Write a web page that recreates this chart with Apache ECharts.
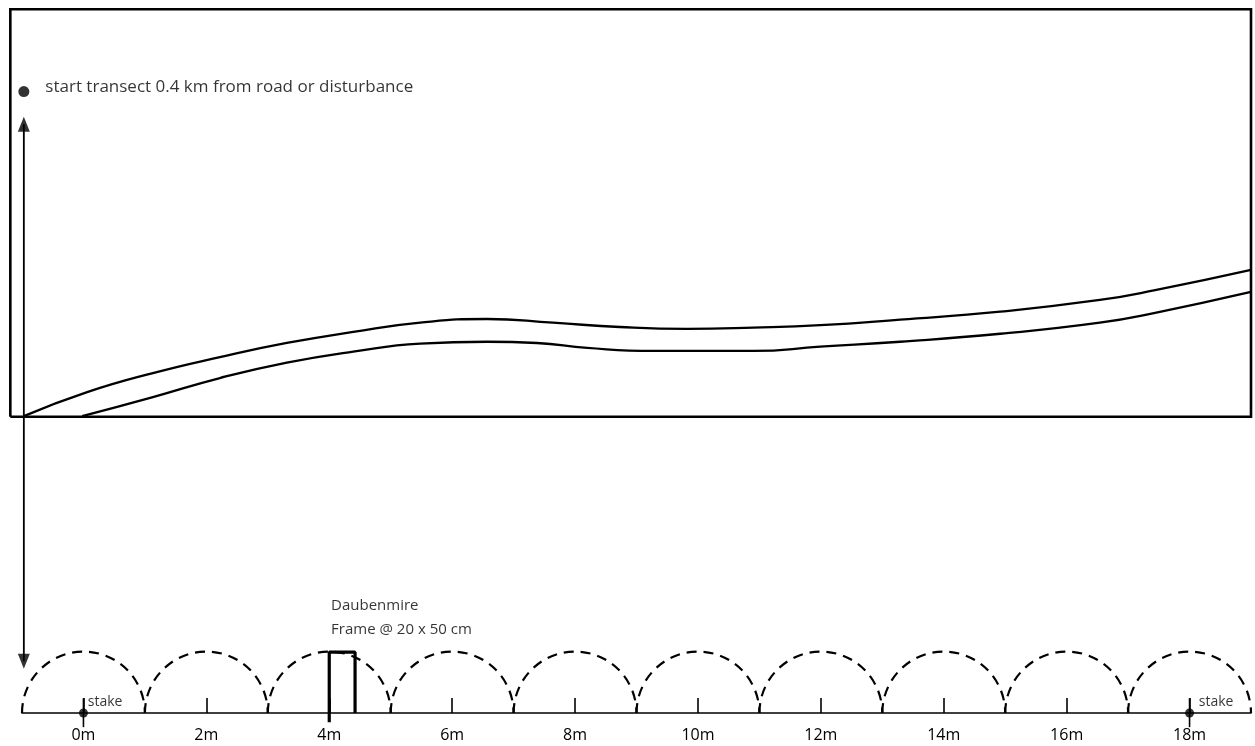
<!DOCTYPE html>
<html>
<head>
<meta charset="utf-8">
<script src="https://cdn.jsdelivr.net/npm/echarts@6/dist/echarts.min.js"></script>
<style>
html,body{margin:0;padding:0;background:#fff;}
#chart{width:1255px;height:746px;}
</style>
</head>
<body>
<div id="chart"></div>
<script>
// ---- data (metres along transect; y in metres-equivalent drawing units) ----
const tickValues = [0, 2, 4, 6, 8, 10, 12, 14, 16, 18];
const tickLabels = ['0m', '2m', '4m', '6m', '8m', '10m', '12m', '14m', '16m', '18m'];
const plotCenters = [0, 2, 4, 6, 8, 10, 12, 14, 16, 18];
const plotRadius = 1;
const stakePositions = [0, 18];
const roadUpperEdge = [
  [-0.97, 4.83], [0.06, 5.22], [1.13, 5.53], [2.22, 5.79], [3.31, 6.02], [4.39, 6.20],
  [5.48, 6.35], [6.57, 6.41], [7.64, 6.35], [8.73, 6.28], [9.82, 6.25], [10.90, 6.27],
  [11.99, 6.31], [13.29, 6.40], [14.92, 6.53], [16.54, 6.72], [17.44, 6.88], [19.0, 7.21]
];
const roadLowerEdge = [
  [-0.02, 4.83], [1.13, 5.14], [2.22, 5.45], [3.31, 5.70], [4.39, 5.88], [5.48, 6.01],
  [6.57, 6.04], [7.38, 6.02], [8.20, 5.94], [9.27, 5.89], [10.90, 5.89], [11.99, 5.96],
  [13.29, 6.04], [14.92, 6.17], [16.54, 6.35], [17.44, 6.51], [19.0, 6.85]
];
const siteBorder = [[-1.19, 4.82], [19.0, 4.82], [19.0, 11.45], [-1.19, 11.45], [-1.19, 4.82]];
const transectLine = [[-0.97, 0.84], [-0.97, 9.58]];
const arrowHeads = [[-0.97, 9.58, 0], [-0.97, 0.84, 180]];
const startPoint = [-0.97, 10.11];
const frameOutline = [[4.0, -0.15], [4.0, 0.99], [4.42, 0.99], [4.42, 0.0]];
const startText = 'start transect 0.4 km from road or disturbance';
const frameText = 'Daubenmire\nFrame @ 20 x 50 cm';
const stakeText = 'stake';

const INK = '#000';
const TEXT = '#000';
const FONT = '"Open Sans", "Noto Sans", sans-serif';

const chart = echarts.init(document.getElementById('chart'));
chart.setOption({
  backgroundColor: '#fff',
  animation: false,
  grid: { left: 22, right: 4, top: 8, bottom: 33, containLabel: false },
  xAxis: {
    type: 'value', min: -1, max: 19,
    splitLine: { show: false },
    axisLine: { show: true, onZero: false, lineStyle: { color: INK, width: 1.6 } },
    axisTick: { show: true, inside: true, length: 15, customValues: tickValues, lineStyle: { color: INK, width: 1.6 } },
    axisLabel: {
      show: true, margin: 14, customValues: tickValues,
      formatter: v => tickLabels[tickValues.indexOf(v)] || '',
      color: TEXT, fontSize: 16, fontFamily: FONT
    }
  },
  yAxis: {
    type: 'value', min: 0, max: 11.47, show: false,
    splitLine: { show: false }
  },
  series: [
    {
      name: 'site', type: 'custom', data: [[0, 0]], z: 3,
      renderItem: function (params, api) {
        return {
          type: 'polyline',
          shape: { points: siteBorder.map(p => api.coord(p)) },
          style: { stroke: INK, fill: null, lineWidth: 2.6 }
        };
      }
    },
    {
      name: 'road upper', type: 'line', data: roadUpperEdge, symbol: 'none', smooth: 0.5, clip: false,
      lineStyle: { color: INK, width: 2.3 }
    },
    {
      name: 'road lower', type: 'line', data: roadLowerEdge, symbol: 'none', smooth: 0.5, clip: false,
      lineStyle: { color: INK, width: 2.3 }
    },
    {
      name: 'transect', type: 'line', data: transectLine, symbol: 'none', clip: false,
      lineStyle: { color: INK, width: 1.8 }
    },
    {
      name: 'arrows', type: 'scatter', data: arrowHeads, symbol: 'triangle', symbolSize: [12, 15],
      symbolRotate: v => v[2], itemStyle: { color: INK }, clip: false
    },
    {
      name: 'start', type: 'scatter', data: [startPoint], symbol: 'circle', symbolSize: 11,
      itemStyle: { color: INK },
      label: {
        show: true, position: 'right', distance: 16, offset: [0, -4],
        formatter: startText, color: TEXT, fontSize: 17, fontFamily: FONT
      }
    },
    {
      name: 'plots', type: 'custom', data: plotCenters.map(c => [c, 0]),
      renderItem: function (params, api) {
        const c = api.coord([api.value(0), 0]);
        const r = api.size([plotRadius, 0])[0];
        return {
          type: 'arc',
          shape: { cx: c[0], cy: c[1], r: r, startAngle: Math.PI, endAngle: 2 * Math.PI, clockwise: true },
          style: { stroke: INK, fill: null, lineWidth: 2.2, lineDash: [10, 7] }
        };
      }
    },
    {
      name: 'frame', type: 'line', data: frameOutline, symbol: 'none', clip: false,
      lineStyle: { color: INK, width: 3.2 }, z: 4
    },
    ...stakePositions.map(s => ({
      name: 'stake ' + s, type: 'line', data: [[s, -0.23], [s, 0.24]], symbol: 'none', clip: false,
      lineStyle: { color: INK, width: 1.6 }
    })),
    {
      name: 'stake dots', type: 'scatter', data: stakePositions.map(s => [s, 0]), symbolSize: 9,
      itemStyle: { color: INK }, clip: false
    },
    {
      name: 'notes', type: 'scatter', symbolSize: 0, clip: false,
      data: [
        { value: [0.07, 0.18], label: { formatter: stakeText, fontSize: 14 } },
        { value: [18.15, 0.18], label: { formatter: stakeText, fontSize: 14 } },
        { value: [4.03, 1.55], label: { formatter: frameText, fontSize: 15, lineHeight: 24 } }
      ],
      label: { show: true, position: 'right', distance: 0, color: TEXT, fontFamily: FONT }
    }
  ]
});
</script>
</body>
</html>
